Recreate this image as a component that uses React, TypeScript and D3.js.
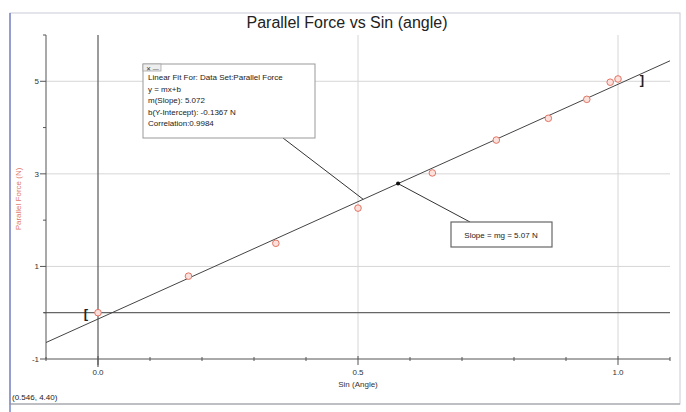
import * as d3 from "d3";

// sin(angle) values and the measured parallel force (N)
const sinAngle = [0, 0.174, 0.342, 0.5, 0.643, 0.766, 0.866, 0.94, 0.985, 1.0];
const parallelForce = [0.0, 0.79, 1.5, 2.26, 3.02, 3.73, 4.2, 4.61, 4.98, 5.05];

const xMajorTicks = [0, 0.5, 1.0];
const xMinorTicks = [-0.1, 0.1, 0.2, 0.3, 0.4, 0.6, 0.7, 0.8, 0.9, 1.1];
const yMajorTicks = [-1, 1, 3, 5];
const yMinorTicks = [0, 2, 4, 6];

const fitSlope = 5.072;
const fitIntercept = -0.1367;
const fitText = [
  "Linear Fit For:  Data Set:Parallel Force",
  "y = mx+b",
  "m(Slope): 5.072",
  "b(Y-Intercept): -0.1367 N",
  "Correlation:0.9984",
];
const slopeNote = "Slope = mg = 5.07 N";
const statusText = "(0.546, 4.40)";

const W = 686;
const H = 412;
const font = "'Liberation Sans', Arial, sans-serif";

const App = () => {
  const x = d3.scaleLinear().domain([-0.1, 1.1]).range([46, 670]);
  const y = d3.scaleLinear().domain([-1, 6]).range([359, 35]);
  const fit = (v: number) => fitSlope * v + fitIntercept;
  const [x0, x1] = x.domain();
  const [y0, y1] = y.domain();

  const fitLine = d3
    .line<number>()
    .x((d) => x(d))
    .y((d) => y(fit(d)));

  // annotation anchors on the fit line
  const leaderX = 0.51;
  const arrowX = 0.577;

  return (
    <div style={{ position: "absolute", left: 0, top: 0 }}>
      <svg width={W} height={H} style={{ display: "block", fontFamily: font }}>
        <rect x={0} y={0} width={W} height={H} fill="#fff" />
        {/* frame */}
        <rect x={10} y={13} width={670} height={391} fill="none" stroke="#c8cbd8" />
        <line x1={10} y1={13} x2={10} y2={H} stroke="#7a86c8" strokeWidth={1.5} />
        <line x1={10} y1={404} x2={680} y2={404} stroke="#999" />

        <text x={347} y={28} textAnchor="middle" fontSize={16} fill="#222">
          Parallel Force vs Sin (angle)
        </text>

        {/* grid */}
        {yMajorTicks
          .filter((t) => t !== y0)
          .map((t) => (
            <line key={"gy" + t} x1={x(x0)} x2={x(x1)} y1={y(t)} y2={y(t)} stroke="#d6d6d6" />
          ))}
        {xMajorTicks
          .filter((t) => t !== 0)
          .map((t) => (
            <line key={"gx" + t} x1={x(t)} x2={x(t)} y1={y(y1)} y2={y(y0)} stroke="#d6d6d6" />
          ))}

        {/* zero lines */}
        <line x1={x(x0) - 2} x2={x(x1)} y1={y(0)} y2={y(0)} stroke="#666" strokeWidth={1.3} />
        <line x1={x(0)} x2={x(0)} y1={y(y1)} y2={y(y0) + 8} stroke="#666" strokeWidth={1.3} />

        {/* y axis */}
        <line x1={x(x0)} x2={x(x0)} y1={y(y1)} y2={y(y0)} stroke="#555" />
        {yMajorTicks.map((t) => (
          <g key={"yt" + t}>
            <line x1={x(x0) - 6} x2={x(x0)} y1={y(t)} y2={y(t)} stroke="#555" />
            <text x={x(x0) - 7} y={y(t) + 3} textAnchor="end" fontSize={8} fill="#333">
              {t}
            </text>
          </g>
        ))}
        {yMinorTicks.map((t) => (
          <line key={"ym" + t} x1={x(x0) - 3} x2={x(x0)} y1={y(t)} y2={y(t)} stroke="#555" />
        ))}
        <text
          transform={`translate(21, ${(y(y0) + y(y1)) / 2 + 2}) rotate(-90)`}
          textAnchor="middle"
          fontSize={8}
          fill="#e07a6a"
        >
          Parallel Force (N)
        </text>

        {/* x axis */}
        <line x1={x(x0)} x2={x(x1)} y1={y(y0)} y2={y(y0)} stroke="#555" />
        {xMinorTicks.map((t) => (
          <line key={"xm" + t} x1={x(t)} x2={x(t)} y1={y(y0) - 2} y2={y(y0) + 2} stroke="#555" />
        ))}
        {xMajorTicks.map((t) => (
          <g key={"xt" + t}>
            <line x1={x(t)} x2={x(t)} y1={y(y0) - 3} y2={y(y0) + 6} stroke="#555" />
            <text x={x(t)} y={y(y0) + 16} textAnchor="middle" fontSize={8} fill="#333">
              {d3.format(".1f")(t)}
            </text>
          </g>
        ))}
        <text x={x(0.5)} y={y(y0) + 28} textAnchor="middle" fontSize={8} fill="#333">
          Sin (Angle)
        </text>

        {/* fit line */}
        <path d={fitLine([x0, x1]) ?? ""} fill="none" stroke="#444" strokeWidth={1} />

        {/* data points */}
        {sinAngle.map((s, i) => (
          <circle
            key={"p" + i}
            cx={x(s)}
            cy={y(parallelForce[i])}
            r={3.3}
            fill="#fbe0db"
            stroke="#e27565"
            strokeWidth={1}
          />
        ))}

        {/* range brackets */}
        <text x={x(0) - 12} y={y(0) + 5} textAnchor="middle" fontSize={13} fontWeight="bold" fill="#222">
          [
        </text>
        <text x={x(1) + 24} y={y(5.05) + 5} textAnchor="middle" fontSize={13} fontWeight="bold" fill="#222">
          ]
        </text>

        {/* fit info box */}
        <line x1={283} y1={138} x2={x(leaderX)} y2={y(fit(leaderX))} stroke="#333" />
        <rect x={143} y={64} width={172} height={74} fill="#fff" stroke="#999" />
        <rect x={143} y={64} width={18} height={7} fill="#eee" stroke="#999" strokeWidth={0.7} />
        <text x={146} y={70.5} fontSize={6} fill="#333">
          ✕ —
        </text>
        {fitText.map((t, i) => (
          <text key={"ft" + i} x={148} y={80 + i * 11.5} fontSize={8} fill="#222">
            {t}
          </text>
        ))}

        {/* slope note with arrow */}
        <line x1={470} y1={222} x2={x(arrowX)} y2={y(fit(arrowX))} stroke="#333" />
        <circle cx={x(arrowX)} cy={y(fit(arrowX))} r={2} fill="#111" />
        <rect x={451} y={222} width={101} height={25} fill="#fff" stroke="#666" strokeWidth={1.2} />
        <text x={501} y={238} textAnchor="middle" fontSize={8} fill="#222">
          {slopeNote}
        </text>

        <text x={12} y={400} fontSize={8} fill="#222">
          {statusText}
        </text>
      </svg>
    </div>
  );
};

export default App;
